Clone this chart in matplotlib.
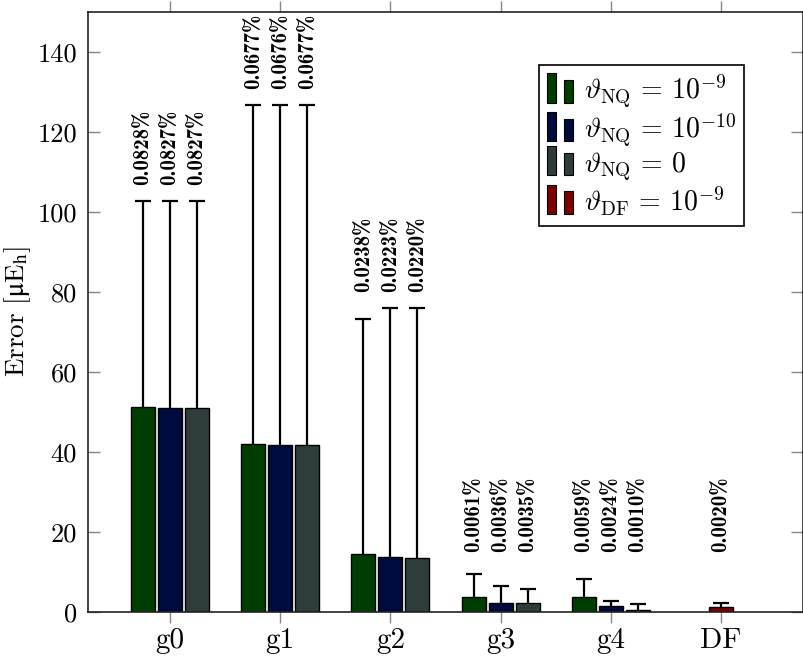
import numpy as np
import matplotlib
matplotlib.use("Agg")
import matplotlib.pyplot as plt
from matplotlib.patches import Rectangle, Patch
from matplotlib.legend_handler import HandlerBase

plt.rcParams['mathtext.fontset'] = 'cm'
plt.rcParams['axes.unicode_minus'] = False
plt.rcParams['font.family'] = ['cmr10', 'DejaVu Serif']

# ---- data ----
categories = ["g0", "g1", "g2", "g3", "g4", "DF"]
series_names = [r"$\vartheta_{\mathrm{NQ}}\,=\,10^{-9}$",
                r"$\vartheta_{\mathrm{NQ}}\,=\,10^{-10}$",
                r"$\vartheta_{\mathrm{NQ}}\,=\,0$",
                r"$\vartheta_{\mathrm{DF}}\,=\,10^{-9}$"]
# mean error (bar height) for g0..g4, three NQ thresholds
nq_mean = [
    [51.2, 41.9, 14.6, 3.85, 3.65],   # 1e-9
    [51.0, 41.8, 13.75, 2.2, 1.5],    # 1e-10
    [51.0, 41.8, 13.5, 2.2, 0.6],     # 0
]
# max error (top of error bar)
nq_max = [
    [102.8, 126.8, 73.3, 9.4, 8.25],
    [102.8, 126.8, 76.0, 6.5, 2.85],
    [102.8, 126.8, 76.0, 5.75, 1.9],
]
nq_labels = [
    ["0.0828%", "0.0677%", "0.0238%", "0.0061%", "0.0059%"],
    ["0.0827%", "0.0676%", "0.0223%", "0.0036%", "0.0024%"],
    ["0.0827%", "0.0677%", "0.0220%", "0.0035%", "0.0010%"],
]
df_mean = 1.25
df_max = 2.35
df_label = "0.0020%"

colors = ["#003d00", "#000a3d", "#2e3d3c", "#7d0000"]

fig = plt.figure(figsize=(8.04, 6.58), dpi=100)
ax = fig.add_axes([0.1095, 0.0699, 0.8893, 0.9119])

x = np.arange(len(categories))
ngroups = len(nq_mean[0])
off = 0.245
bw = 0.218


def draw_err(xs, mean, mx):
    mean = np.atleast_1d(np.asarray(mean, dtype=float))
    mx = np.atleast_1d(np.asarray(mx, dtype=float))
    _, caps, _ = ax.errorbar(xs, mean, yerr=[np.zeros_like(mean), mx - mean], fmt='none',
                             ecolor='black', elinewidth=1.6, capsize=5.5, capthick=1.6,
                             zorder=3)
    caps[0].set_visible(False)


for s in range(3):
    xs = x[:ngroups] + (s - 1) * off
    ax.bar(xs, nq_mean[s], width=bw, color=colors[s], edgecolor='black', linewidth=1.0, zorder=2)
    draw_err(xs, nq_mean[s], nq_max[s])

ax.bar([x[-1]], [df_mean], width=bw, color=colors[3], edgecolor='black', linewidth=1.0, zorder=2)
draw_err([x[-1]], [df_mean], [df_max])

# labels
lab_fs = 15
for g in range(ngroups):
    top = max(nq_max[s][g] for s in range(3))
    ly = max(top + 4.0, 15.0)
    for s in range(3):
        ax.text(x[g] + (s - 1) * off, ly, nq_labels[s][g], rotation=90,
                ha='center', va='bottom', fontsize=lab_fs, family='cmb10')
ax.text(x[-1], max(df_max + 4.0, 15.0), df_label, rotation=90, ha='center',
        va='bottom', fontsize=lab_fs, family='cmb10')

ax.set_xlim(-0.745, 5.745)
ax.set_ylim(0, 150)
ax.set_xticks(x)
ax.set_xticklabels(categories)
ax.set_yticks(np.arange(0, 141, 20))
ax.tick_params(axis='x', direction='out', length=8, width=1, color='#888888',
               top=True, bottom=True, labelsize=21, pad=3)
ax.tick_params(axis='y', direction='in', length=8.5, width=1, color='#888888',
               left=True, right=True, labelsize=19, pad=8)
for sp in ax.spines.values():
    sp.set_linewidth(1.2)
    sp.set_color('#222222')

ax.set_ylabel(r"Error [$\mathrm{\mu}$E$_{\mathrm{h}}$]", fontsize=19.5,
              math_fontfamily='stix')
ax.yaxis.set_label_coords(-0.077, 0.5)


class TwoBarHandler(HandlerBase):
    def create_artists(self, legend, orig_handle, xdescent, ydescent, width, height,
                       fontsize, trans):
        fc = orig_handle.get_facecolor()
        w = width * 0.34
        y0 = -ydescent - height * 0.15
        r1 = Rectangle((-xdescent, y0), w, height * 1.5, facecolor=fc,
                       edgecolor='black', linewidth=0.8, transform=trans)
        r2 = Rectangle((-xdescent + width * 0.64, y0), w, height * 1.15, facecolor=fc,
                       edgecolor='black', linewidth=0.8, transform=trans)
        return [r1, r2]


handles = [Patch(facecolor=c) for c in colors]
leg = ax.legend(handles, series_names, loc='upper right',
                bbox_to_anchor=(0.9175, 0.9117), borderaxespad=0,
                handler_map={Patch: TwoBarHandler()}, fontsize=20,
                handlelength=0.95, handletextpad=0.35, labelspacing=0.05,
                borderpad=0.3, fancybox=False, framealpha=1)
leg.get_frame().set_edgecolor('black')
leg.get_frame().set_linewidth(1.2)

fig.savefig("out.png", dpi=100)
